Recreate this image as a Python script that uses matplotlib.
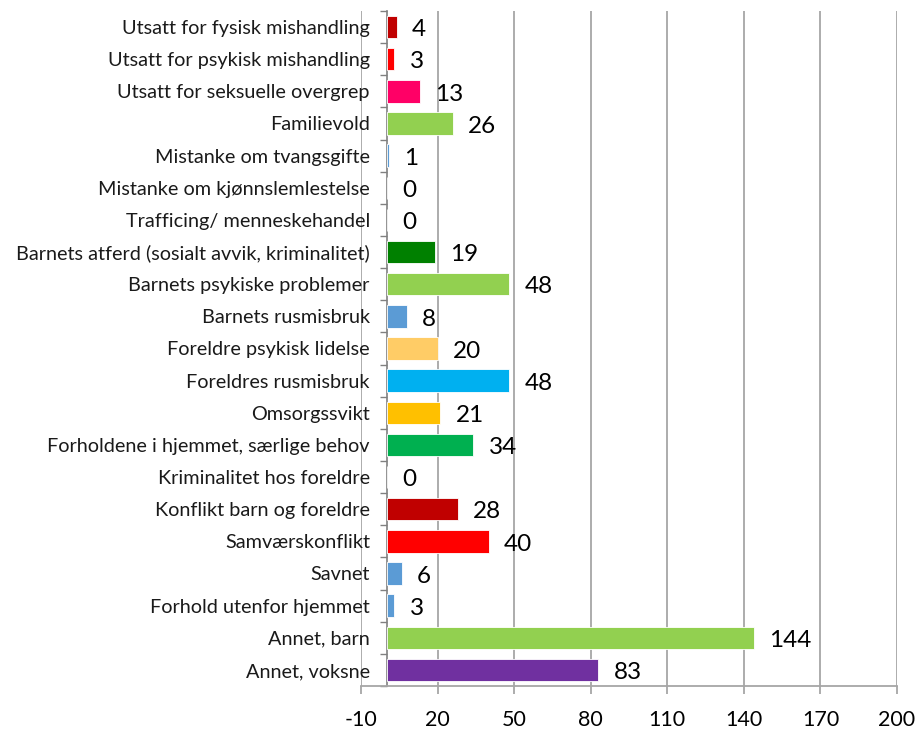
import matplotlib.pyplot as plt
import numpy as np

plt.rcParams["font.family"] = ["Lato", "DejaVu Sans"]
plt.rcParams["axes.unicode_minus"] = False

categories = [
    "Utsatt for fysisk mishandling",
    "Utsatt for psykisk mishandling",
    "Utsatt for seksuelle overgrep",
    "Familievold",
    "Mistanke om tvangsgifte",
    "Mistanke om kjønnslemlestelse",
    "Trafficing/ menneskehandel",
    "Barnets atferd (sosialt avvik, kriminalitet)",
    "Barnets psykiske problemer",
    "Barnets rusmisbruk",
    "Foreldre psykisk lidelse",
    "Foreldres rusmisbruk",
    "Omsorgssvikt",
    "Forholdene i hjemmet, særlige behov",
    "Kriminalitet hos foreldre",
    "Konflikt barn og foreldre",
    "Samværskonflikt",
    "Savnet",
    "Forhold utenfor hjemmet",
    "Annet, barn",
    "Annet, voksne",
]
values = [4, 3, 13, 26, 1, 0, 0, 19, 48, 8, 20, 48, 21, 34, 0, 28, 40, 6, 3, 144, 83]
colors = [
    "#C00000", "#FF0000", "#FF0066", "#92D050", "#5B9BD5", "#5B9BD5", "#5B9BD5",
    "#008000", "#92D050", "#5B9BD5", "#FFCC66", "#00B0F0", "#FFC000", "#00B050",
    "#5B9BD5", "#C00000", "#FF0000", "#5B9BD5", "#5B9BD5", "#92D050", "#7030A0",
]
x_ticks = list(range(-10, 201, 30))

fig = plt.figure(figsize=(9.2, 7.31), dpi=100)
ax = fig.add_axes([0.3924, 0.0616, 0.975 - 0.3924, 0.985 - 0.0616])

y = np.arange(len(categories))
ax.barh(y, values, height=0.7, color=colors, edgecolor="#FFFFFF", linewidth=0.6, zorder=3)

# value labels to the right of each bar
for yi, v in zip(y, values):
    ax.annotate(str(v), (v, yi), xytext=(11, -2), textcoords="offset points",
                va="center", ha="left", fontsize=17.5, color="#000000", zorder=4)

ax.set_xlim(-10, 200)
ax.set_ylim(len(categories) - 0.5, -0.5)
ax.set_xticks(x_ticks)
ax.set_yticks(y)
ax.set_yticklabels(categories)
ax.set_yticks(np.arange(-0.5, len(categories)), minor=True)

ax.grid(axis="x", color="#A6A6A6", linewidth=1.3, zorder=0)
for s in ["top", "right"]:
    ax.spines[s].set_visible(False)
ax.spines["left"].set_position(("data", 0))
ax.spines["left"].set_color("#808080")
ax.spines["left"].set_linewidth(1.2)
ax.spines["bottom"].set_color("#A6A6A6")
ax.spines["bottom"].set_linewidth(1.3)

ax.tick_params(axis="y", which="major", length=0, pad=12, labelsize=14.3, labelcolor="#1a1a1a")
ax.tick_params(axis="y", which="minor", length=5, color="#808080", width=1)
ax.tick_params(axis="x", length=6, color="#A6A6A6", width=1.3, labelsize=15.5, pad=11)

fig.savefig("out.png", dpi=100)
